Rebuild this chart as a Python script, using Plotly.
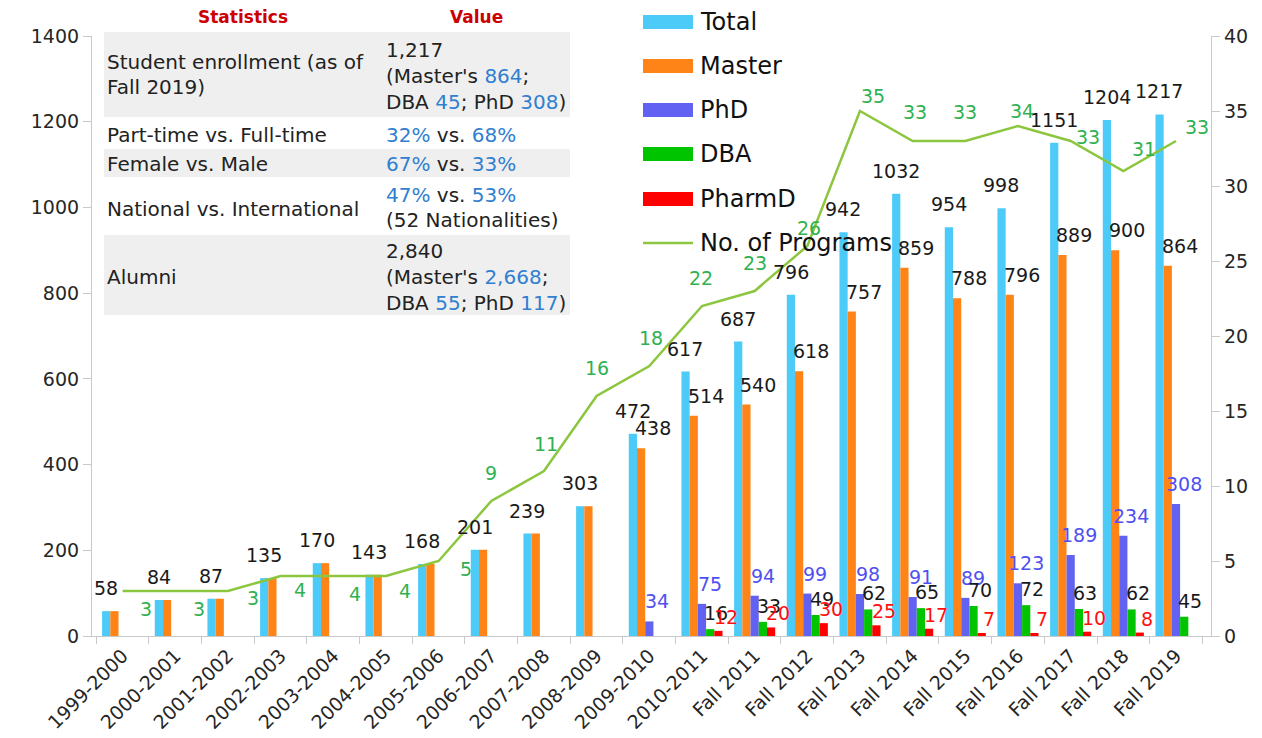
import plotly.graph_objects as go

categories = ["1999-2000", "2000-2001", "2001-2002", "2002-2003", "2003-2004", "2004-2005",
              "2005-2006", "2006-2007", "2007-2008", "2008-2009", "2009-2010", "2010-2011",
              "Fall 2011", "Fall 2012", "Fall 2013", "Fall 2014", "Fall 2015", "Fall 2016",
              "Fall 2017", "Fall 2018", "Fall 2019"]
total = [58, 84, 87, 135, 170, 143, 168, 201, 239, 303, 472, 617, 687, 796, 942, 1032, 954, 998, 1151, 1204, 1217]
master = [58, 84, 87, 135, 170, 143, 168, 201, 239, 303, 438, 514, 540, 618, 757, 859, 788, 796, 889, 900, 864]
phd = [0, 0, 0, 0, 0, 0, 0, 0, 0, 0, 34, 75, 94, 99, 98, 91, 89, 123, 189, 234, 308]
dba = [0, 0, 0, 0, 0, 0, 0, 0, 0, 0, 0, 16, 33, 49, 62, 65, 70, 72, 63, 62, 45]
pharmd = [0, 0, 0, 0, 0, 0, 0, 0, 0, 0, 0, 12, 20, 30, 25, 17, 7, 7, 10, 8, 0]
programs = [3, 3, 3, 4, 4, 4, 5, 9, 11, 16, 18, 22, 23, 26, 35, 33, 33, 34, 33, 31, 33]

# label offsets for the programs line (style only, px)
line_label_shift = [(23, -18), (24, -18), (25, -7), (19, -14), (22, -18), (19, -15), (27, -8),
                    (0, 28), (2, 27), (0, 28), (2, 28), (-1, 28), (0, 28), (2, 18), (13, 15),
                    (2, 29), (0, 29), (4, 15), (17, 4), (21, 22), (21, 14)]

FONT = "DejaVu Sans"
C_TOTAL, C_MASTER, C_PHD, C_DBA, C_PHARMD = "#4DCBF8", "#FF8418", "#6262F2", "#00C400", "#FF0000"
C_LINE, C_LINE_LBL = "#8CC63F", "#2FB152"
BLUE = "#2F80D0"

L, R, T, B = 92, 1211, 36, 636
W, H = 1262, 738


def px(x):
    return (x - L) / (R - L)


def py(y):
    return (B - y) / (B - T)


fig = go.Figure()
series = [("Total", total, C_TOTAL), ("Master", master, C_MASTER), ("PhD", phd, C_PHD),
          ("DBA", dba, C_DBA), ("PharmD", pharmd, C_PHARMD)]
for name, vals, col in series:
    fig.add_trace(go.Bar(x=categories, y=vals, name=name, marker_color=col,
                         marker_line_width=0, showlegend=False))
fig.add_trace(go.Scatter(x=categories, y=programs, yaxis="y2", mode="lines",
                         line=dict(color=C_LINE, width=2.5), name="No. of Programs",
                         showlegend=False))

bargap = 0.22
catw = (R - L) / len(categories)
bw = catw * (1 - bargap) / 5

annotations = []
# bar value labels
label_style = [  # (series index, dx, dy, color)
    (0, 0, 23, "#1a1a1a"),
    (1, 12, 20, "#1a1a1a"),
    (2, 8, 20, "#5050F0"),
    (3, 6, 16, "#1a1a1a"),
    (4, 7, 14, "#FF1010"),
]
for j, dx, dy, col in label_style:
    vals = series[j][1]
    for i, v in enumerate(vals):
        if v <= 0:
            continue
        if j == 1 and v == total[i]:
            continue
        annotations.append(dict(x=categories[i], y=v, xref="x", yref="y", text=str(v),
                                showarrow=False, xshift=(j - 2) * bw + dx, yshift=dy,
                                yanchor="middle", xanchor="center",
                                font=dict(family=FONT, size=19, color=col)))
# line labels
for i, v in enumerate(programs):
    sx, sy = line_label_shift[i]
    annotations.append(dict(x=categories[i], y=v, xref="x", yref="y2", text=str(v),
                            showarrow=False, xshift=sx, yshift=sy, yanchor="middle",
                            xanchor="center", font=dict(family=FONT, size=19, color=C_LINE_LBL)))

shapes = []
# table backgrounds
for y0, y1 in [(32, 117), (149, 177), (235, 315)]:
    shapes.append(dict(type="rect", xref="paper", yref="paper", x0=px(104), x1=px(570),
                       y0=py(y1), y1=py(y0), fillcolor="#EFEFEF", line_width=0, layer="below"))


def tnote(x, y, text, size=20, color="#222222", bold=False, anchor="left"):
    if bold:
        text = "<b>" + text + "</b>"
    annotations.append(dict(x=px(x), y=py(y), xref="paper", yref="paper", text=text,
                            showarrow=False, xanchor=anchor, yanchor="middle",
                            font=dict(family=FONT, size=size, color=color)))


def b(s):
    return "<span style='color:%s'>%s</span>" % (BLUE, s)


tnote(243, 17, "Statistics", size=17, color="#CC0000", bold=True, anchor="center")
tnote(476, 17, "Value", size=17, color="#CC0000", bold=True, anchor="center")
tnote(105, 62, "Student enrollment (as of")
tnote(105, 87, "Fall 2019)")
tnote(384, 50, "1,217")
tnote(384, 76, "(Master's " + b("864") + ";")
tnote(384, 102, "DBA " + b("45") + "; PhD " + b("308") + ")")
tnote(105, 135, "Part-time vs. Full-time")
tnote(384, 135, b("32%") + " vs. " + b("68%"))
tnote(105, 164, "Female vs. Male")
tnote(384, 164, b("67%") + " vs. " + b("33%"))
tnote(105, 209, "National vs. International")
tnote(384, 195, b("47%") + " vs. " + b("53%"))
tnote(384, 220, "(52 Nationalities)")
tnote(105, 277, "Alumni")
tnote(384, 251, "2,840")
tnote(384, 277, "(Master's " + b("2,668") + ";")
tnote(384, 303, "DBA " + b("55") + "; PhD " + b("117") + ")")

# custom legend
leg = [("Total", C_TOTAL, 22), ("Master", C_MASTER, 66), ("PhD", C_PHD, 110),
       ("DBA", C_DBA, 154), ("PharmD", C_PHARMD, 199)]
for name, col, yc in leg:
    shapes.append(dict(type="rect", xref="paper", yref="paper", x0=px(643), x1=px(693),
                       y0=py(yc + 7), y1=py(yc - 7), fillcolor=col, line_width=0))
    tnote(698, yc, name, size=24, color="#111111")
shapes.append(dict(type="line", xref="paper", yref="paper", x0=px(643), x1=px(693),
                   y0=py(243), y1=py(243), line=dict(color=C_LINE, width=2.5)))
tnote(698, 243, "No. of Programs", size=24, color="#111111")

axis_common = dict(showgrid=False, zeroline=False, showline=True, linecolor="#C8C8C8",
                   linewidth=1.2, ticks="outside", tickcolor="#C8C8C8", ticklen=8,
                   tickfont=dict(family=FONT, size=19, color="#262626"), automargin=False)

fig.update_layout(
    width=W, height=H,
    margin=dict(l=L, r=W - R, t=T, b=H - B),
    plot_bgcolor="white", paper_bgcolor="white",
    barmode="group", bargap=bargap, bargroupgap=0,
    xaxis=dict(type="category", tickson="boundaries", tickangle=-45,
               **{**axis_common, "ticklen": 7}),
    yaxis=dict(range=[0, 1400], dtick=200, **axis_common),
    yaxis2=dict(range=[0, 40], dtick=5, overlaying="y", side="right", **axis_common),
    annotations=annotations,
    shapes=shapes,
    showlegend=False,
    hovermode=False,
)

fig.write_html("out.html", config={"displayModeBar": False},
               post_script="document.body.style.margin='0';document.body.style.overflow='hidden';")
